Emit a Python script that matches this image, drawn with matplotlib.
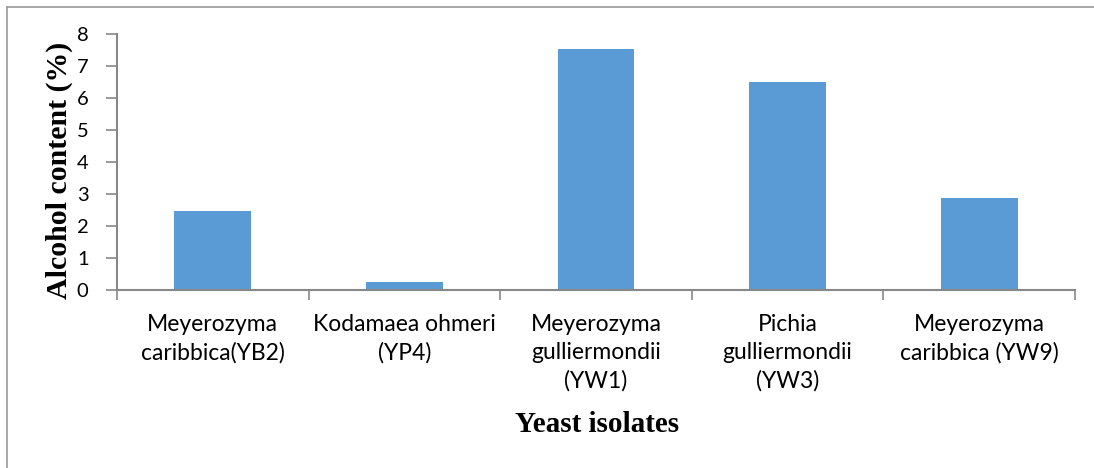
import matplotlib
matplotlib.use("Agg")
import matplotlib.pyplot as plt
from matplotlib.lines import Line2D
import numpy as np

categories = ["Meyerozyma\ncaribbica(YB2)", "Kodamaea ohmeri\n(YP4)",
              "Meyerozyma\ngulliermondii\n(YW1)", "Pichia\ngulliermondii\n(YW3)",
              "Meyerozyma\ncaribbica (YW9)"]
values = [2.47, 0.25, 7.53, 6.5, 2.87]
yticks = [0, 1, 2, 3, 4, 5, 6, 7, 8]

W, H = 1094, 468
fig = plt.figure(figsize=(W / 100, H / 100), dpi=100)
ax = fig.add_axes([117 / W, 1 - 290 / H, (1075 - 117) / W, (290 - 34) / H])

x = np.arange(len(categories))
ax.bar(x, values, width=0.4, color="#5B9BD5", zorder=2)
ax.set_xlim(-0.5, len(categories) - 0.5)
ax.set_ylim(0, 8)
ax.set_yticks(yticks)
ax.set_yticklabels([str(v) for v in yticks], fontsize=14.5, family="Lato")

ax.set_xticks(x)
ax.set_xticklabels(categories, fontsize=16.5, family="Lato", linespacing=1.42, va="top")
ax.tick_params(axis="x", which="major", length=0, pad=17)
ax.set_xticks(np.arange(len(categories) + 1) - 0.5, minor=True)
ax.tick_params(axis="x", which="minor", length=7, color="#888888", width=1.2)
ax.tick_params(axis="y", length=8, color="#888888", width=1.2, pad=12.5)

for s in ["top", "right"]:
    ax.spines[s].set_visible(False)
for s in ["left", "bottom"]:
    ax.spines[s].set_color("#888888")
    ax.spines[s].set_linewidth(1.5)

ax.set_ylabel("Alcohol content (%)", fontsize=21.5, family="Liberation Serif",
              fontweight="bold")
ax.yaxis.set_label_coords(-(117 - 73) / (1075 - 117), (290 - 170) / (290 - 34))
fig.text(597 / W, 1 - 425 / H, "Yeast isolates", fontsize=21, family="Liberation Serif",
         fontweight="bold", ha="center", va="center")

fig.add_artist(Line2D([7 / W, 1], [1 - 7 / H, 1 - 7 / H], color="#999999", lw=1.2))
fig.add_artist(Line2D([7 / W, 7 / W], [0, 1 - 7 / H], color="#999999", lw=1.2))

fig.savefig("out.png", dpi=100)
